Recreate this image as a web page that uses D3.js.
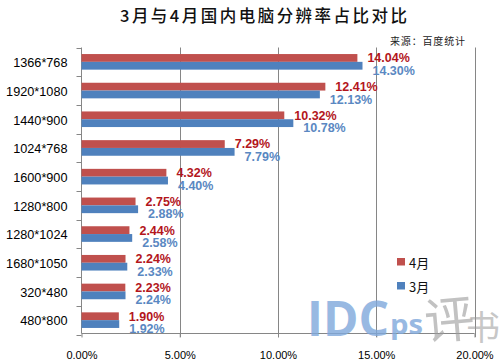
<!DOCTYPE html>
<html><head><meta charset="utf-8">
<script src="https://cdn.jsdelivr.net/npm/d3@7/dist/d3.min.js"></script>
<style>body{margin:0;background:#fff}svg{display:block}</style>
</head><body>
<svg id="c" width="500" height="364"></svg>
<script>
const categories = ["1366*768","1920*1080","1440*900","1024*768","1600*900","1280*800","1280*1024","1680*1050","320*480","480*800"];
const april = [14.04,12.41,10.32,7.29,4.32,2.75,2.44,2.24,2.23,1.90];
const march = [14.30,12.13,10.78,7.79,4.40,2.88,2.58,2.33,2.24,1.92];
const xTicks = [0,5,10,15,20];
const seriesNames = ["4月","3月"];
const title = "3月与4月国内电脑分辨率占比对比";
const source = "来源：百度统计";

const svg = d3.select("#c");
const font = "'Liberation Sans', Arial, sans-serif";
const cjk = "'Noto Sans CJK SC', sans-serif";
const redBar = "#C0504D", blueBar = "#4F81BD";
const redLbl = "#B3161C", blueLbl = "#5A88C2";

const x = d3.scaleLinear().domain([0,20]).range([81.5,474.5]);
const y = d3.scaleBand().domain(categories).range([47.5,334.5]).padding(0);
const bh = 7.8;

// gridlines
svg.append("g").selectAll("line").data(xTicks.slice(1)).join("line")
  .attr("x1",d=>Math.round(x(d))+0.5).attr("x2",d=>Math.round(x(d))+0.5)
  .attr("y1",47.5).attr("y2",337)
  .attr("stroke","#868686").attr("stroke-width",1);

// bottom axis
const xAxis = d3.axisBottom(x).tickValues(xTicks).tickFormat(d=>d3.format(".2f")(d)+"%").tickSize(4).tickPadding(14);
const gx = svg.append("g").attr("transform","translate(0,333.5)").call(xAxis);
gx.select(".domain").attr("stroke","#868686").attr("d","M81.5,0H474.5");
gx.selectAll(".tick line").attr("stroke","#868686");
gx.selectAll(".tick text").attr("font-family",font).attr("font-size",11).attr("fill","#000");

// left axis
const yAxis = d3.axisLeft(y).tickSize(0).tickPadding(14);
const gy = svg.append("g").attr("transform","translate(81.5,0)").call(yAxis);
gy.select(".domain").attr("stroke","#868686").attr("d","M0,47.5V333.5");
gy.selectAll(".tick text").attr("font-family",font).attr("font-size",12.7).attr("fill","#000").attr("dy","0.42em");
// category boundary ticks
gy.append("g").selectAll("line").data(categories.concat(["end"])).join("line")
  .attr("x1",-5).attr("x2",0)
  .attr("y1",(d,i)=>Math.round(47.5+i*y.bandwidth())+0.5)
  .attr("y2",(d,i)=>Math.round(47.5+i*y.bandwidth())+0.5)
  .attr("stroke","#868686");

const mid = d=>y(d)+y.bandwidth()/2;

// bars
svg.append("g").selectAll("rect").data(categories).join("rect")
  .attr("x",x(0)).attr("y",d=>mid(d)-bh).attr("height",bh)
  .attr("width",(d,i)=>x(april[i])-x(0)).attr("fill",redBar);
svg.append("g").selectAll("rect").data(categories).join("rect")
  .attr("x",x(0)).attr("y",d=>mid(d)).attr("height",bh)
  .attr("width",(d,i)=>x(march[i])-x(0)).attr("fill",blueBar);

// labels
svg.append("g").selectAll("text").data(categories).join("text")
  .attr("x",(d,i)=>x(april[i])+10).attr("y",d=>mid(d)+0.5)
  .attr("font-family",font).attr("font-size",12.5).attr("font-weight","bold").attr("fill",redLbl)
  .text((d,i)=>april[i].toFixed(2)+"%");
svg.append("g").selectAll("text").data(categories).join("text")
  .attr("x",(d,i)=>x(march[i])+10).attr("y",d=>mid(d)+13)
  .attr("font-family",font).attr("font-size",12.5).attr("font-weight","bold").attr("fill",blueLbl)
  .text((d,i)=>march[i].toFixed(2)+"%");

// title
svg.append("text").attr("x",120).attr("y",22).attr("textLength",287).attr("lengthAdjust","spacing")
  .attr("font-family",cjk).attr("font-size",16.5).attr("font-weight",500).attr("fill","#111").text(title);
svg.append("text").attr("x",390).attr("y",45).attr("textLength",75).attr("lengthAdjust","spacing")
  .attr("font-family",cjk).attr("font-size",10).attr("fill","#222").text(source);

// legend
const leg = svg.append("g");
[[seriesNames[0],redBar,258],[seriesNames[1],blueBar,282]].forEach(([t,c,yy])=>{
  leg.append("rect").attr("x",397).attr("y",yy).attr("width",8).attr("height",7.5).attr("fill",c);
  leg.append("text").attr("x",409).attr("y",yy+9.5).attr("font-family",cjk).attr("font-size",13).attr("fill","#111").text(t);
});

// watermark
const wm = svg.append("g").attr("pointer-events","none");
wm.append("text").attr("x",307).attr("y",336).attr("textLength",82).attr("lengthAdjust","spacingAndGlyphs")
  .attr("font-family","'Open Sans', "+font).attr("font-weight","bold").attr("font-size",48)
  .attr("fill","#7FA8DC").attr("opacity",0.8).text("IDC");
wm.append("text").attr("x",390).attr("y",334).attr("textLength",33).attr("lengthAdjust","spacingAndGlyphs")
  .attr("font-family","'Open Sans', "+font).attr("font-weight","bold").attr("font-size",26)
  .attr("fill","#7FA8DC").attr("opacity",0.8).text("ps");
wm.append("text").attr("x",424).attr("y",338).attr("font-family",cjk).attr("font-size",50)
  .attr("fill","#9a9a9a").attr("opacity",0.6).attr("transform","rotate(-5,448,315)").text("评");
wm.append("text").attr("x",466).attr("y",340).attr("font-family",cjk).attr("font-size",34)
  .attr("fill","#9a9a9a").attr("opacity",0.55).text("书");
</script>
</body></html>
